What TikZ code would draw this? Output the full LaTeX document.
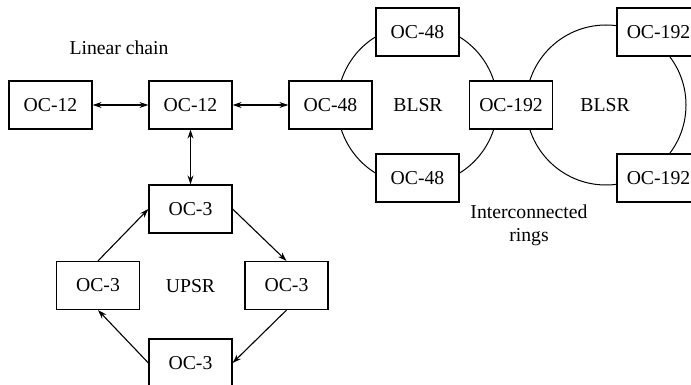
\documentclass[tikz,border=0pt]{standalone}
\usepackage{fontspec}
\setmainfont{Liberation Serif}
\usetikzlibrary{arrows.meta}
\begin{document}
\begin{tikzpicture}[x=1pt,y=-1pt,
  box/.style={draw,line width=1.2pt,fill=white,minimum width=83pt,minimum height=48pt,inner sep=0pt,font=\fontsize{19.7}{23}\selectfont},
  lbl/.style={inner sep=0pt,font=\fontsize{19.7}{23}\selectfont,align=center},
  link/.style={line width=1.2pt,{Stealth[length=9pt,width=6pt]}-{Stealth[length=9pt,width=6pt]}},
  flow/.style={line width=1.1pt,-{Stealth[length=9pt,width=6pt]}},
  ring/.style={line width=1pt}]
\useasboundingbox (0,0) rectangle (691,385);
\clip (0,0) rectangle (691,385);
% rings
\draw[ring] (417.5,105) circle[radius=80pt];
\draw[ring] (606,105) circle[radius=80pt];
% nodes
\node[box] (c1) at (50.5,105) {OC-12};
\node[box] (c2) at (190.5,105) {OC-12};
\node[box] (r1l) at (330.5,105) {OC-48};
\node[box] (r1t) at (417.5,32) {OC-48};
\node[box] (r1b) at (417.5,178) {OC-48};
\node[box] (m) at (511,105) {OC-192};
\node[box] (r2t) at (658.5,32) {OC-192};
\node[box] (r2b) at (658.5,178) {OC-192};
\node[box] (ut) at (190.5,209) {OC-3};
\node[box] (ul) at (98,285.5) {OC-3};
\node[box] (ur) at (286.5,285.5) {OC-3};
\node[box] (ub) at (190.5,363) {OC-3};
% labels
\node[lbl] (lc) at (119,48) {Linear chain};
\node[lbl] (b1) at (418,105) {BLSR};
\node[lbl] (b2) at (605,105) {BLSR};
\node[lbl] (up) at (190.5,286) {UPSR};
\node[lbl] (ir) at (529,225) {Interconnected\\rings};
% connectors
\draw[link] (c1.east) -- (c2.west);
\draw[link] (c2.east) -- (r1l.west);
\draw[link] (c2.south) -- (ut.north);
\draw[flow] (ul.north) -- (ut.west);
\draw[flow] (ut.east) -- (ur.north);
\draw[flow] (ur.south) -- (ub.east);
\draw[flow] (ub.west) -- (ul.south);
\end{tikzpicture}
\end{document}
